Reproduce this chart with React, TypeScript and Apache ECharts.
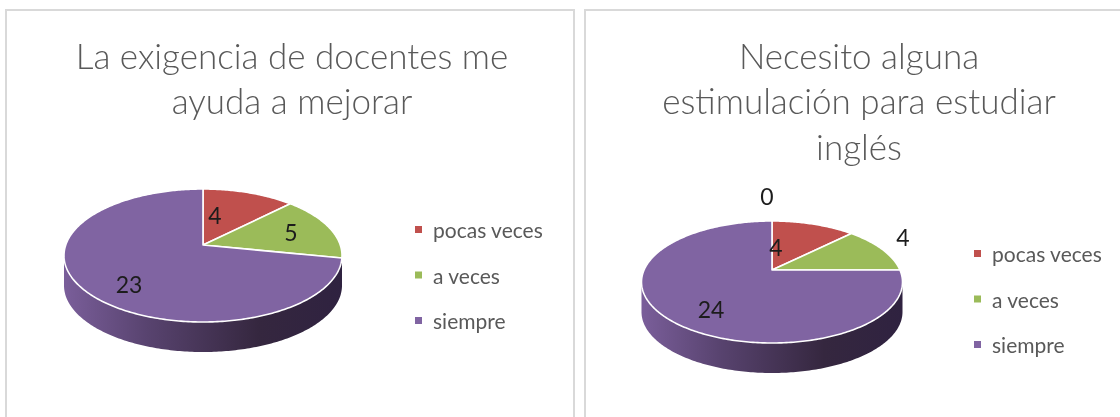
import React, { useEffect, useRef } from "react";
import * as echarts from "echarts";

// ---- data ----
const legendNames = ["pocas veces", "a veces", "siempre"];
const leftCategories = ["pocas veces", "a veces", "siempre"];
const leftValues = [4, 5, 23];
const rightCategories = ["sin etiqueta", "pocas veces", "a veces", "siempre"];
const rightValues = [0, 4, 4, 24];
const leftTitle = "La exigencia de docentes me\nayuda a mejorar";
const rightTitle = "Necesito alguna\nestimulación para estudiar\ninglés";

// ---- styles ----
const colors: Record<string, string> = {
  "sin etiqueta": "#4f81bd",
  "pocas veces": "#c0504d",
  "a veces": "#9bbb59",
  siempre: "#8064a2",
};
const FONT = "Lato, 'Noto Sans', sans-serif";

type Layout = {
  left: number; width: number;
  frame: { x: number; y: number; w: number; h: number };
  titleX: number; titleTop: number;
  apex: [number, number]; up: number; down: number; half: number; depth: number;
  labels: [number, number][];
  legendLeft: number; legendTop: number;
};

const leftLayout: Layout = {
  left: 0, width: 580,
  frame: { x: 6, y: 10, w: 568, h: 430 },
  titleX: 287, titleTop: 27,
  apex: [203, 245], up: 56, down: 77, half: 139, depth: 30,
  labels: [[215, 215], [291, 232], [129, 284]],
  legendLeft: 410, legendTop: 214,
};
const rightLayout: Layout = {
  left: 580, width: 540,
  frame: { x: 5, y: 10, w: 560, h: 430 },
  titleX: 274, titleTop: 27,
  apex: [192, 270], up: 49, down: 73, half: 130.5, depth: 30,
  labels: [[187, 196], [196, 247], [323, 237], [131, 309]],
  legendLeft: 389, legendTop: 238,
};

function Panel({ title, categories, values, layout }: { title: string; categories: string[]; values: number[]; layout: Layout }) {
  const ref = useRef<HTMLDivElement>(null);
  useEffect(() => {
    const chart = echarts.init(ref.current!, undefined, { renderer: "svg" });
    const [cx, cy] = layout.apex;
    const k = (layout.down - layout.up) / (layout.down + layout.up);
    const b = layout.up * (1 + k);
    const a = layout.half * Math.sqrt(1 - k * k);
    const project = (theta: number, dy = 0): number[] => {
      const x = Math.sin(theta);
      const y = Math.cos(theta);
      const w = 1 + k * y;
      return [cx + (a * x) / w, cy - (b * y) / w + dy];
    };
    const total = values.reduce((s, v) => s + v, 0);
    const arc = (from: number, to: number, dy = 0) => {
      const n = Math.max(2, Math.ceil(Math.abs(to - from) / 0.015));
      const pts: number[][] = [];
      for (let i = 0; i <= n; i++) pts.push(project(from + ((to - from) * i) / n, dy));
      return pts;
    };
    // side wall of the disc runs between the two silhouette points
    const sideFrom = Math.PI - Math.asin(Math.sqrt(1 - k * k));
    const sideTo = Math.PI + Math.asin(Math.sqrt(1 - k * k));
    const sideSeries = {
      type: "custom",
      name: "lateral",
      coordinateSystem: "none",
      silent: true,
      data: [total],
      renderItem: () => ({
        type: "polygon",
        shape: { points: [...arc(sideFrom, sideTo), ...arc(sideTo, sideFrom, layout.depth)] },
        style: {
          fill: new echarts.graphic.LinearGradient(1, 0, 0, 0, [
            { offset: 0, color: "#2f2240" },
            { offset: 0.3, color: "#35273f" },
            { offset: 0.7, color: "#58436f" },
            { offset: 1, color: "#7a5e9a" },
          ]),
        },
      }),
    };
    let acc = 0;
    const sliceSeries = values.map((v, i) => {
      const start = (acc / total) * Math.PI * 2;
      acc += v;
      const end = (acc / total) * Math.PI * 2;
      const name = categories[i];
      const color = colors[name];
      return {
        type: "custom",
        name,
        coordinateSystem: "none",
        silent: true,
        itemStyle: { color },
        data: [v],
        z: 3,
        renderItem: () => ({
          type: "group",
          children: [
            ...(v > 0
              ? [{
                  type: "polygon",
                  shape: { points: [[cx, cy], ...arc(start, end)] },
                  style: { fill: color, stroke: "#ffffff", lineWidth: 1.6, lineJoin: "round" },
                }]
              : []),
          ],
        }),
      };
    });
    // value labels sit on top of every slice
    const labelSeries = values.map((v, i) => ({
      type: "custom",
      name: `etiqueta-${i}`,
      coordinateSystem: "none",
      silent: true,
      data: [v],
      z: 5,
      renderItem: () => ({
        type: "text",
        x: layout.labels[i][0],
        y: layout.labels[i][1],
        style: {
          text: String(v),
          fill: "#1c1c1c",
          font: `23px ${FONT}`,
          align: "center",
          verticalAlign: "middle",
        },
      }),
    }));
    chart.setOption({
      animation: false,
      backgroundColor: "#ffffff",
      title: {
        text: title,
        left: layout.titleX,
        top: layout.titleTop,
        textAlign: "center",
        textStyle: { fontFamily: FONT, fontWeight: 300, fontSize: 35, lineHeight: 45.5, color: "#595959" },
      },
      legend: {
        data: legendNames,
        orient: "vertical",
        left: layout.legendLeft,
        top: layout.legendTop,
        icon: "rect",
        itemWidth: 7,
        itemHeight: 7,
        itemGap: 24.5,
        selectedMode: false,
        textStyle: { fontFamily: FONT, fontSize: 21, color: "#595959", padding: [0, 0, 0, 6] },
      },
      graphic: [{
        type: "rect",
        shape: { x: layout.frame.x, y: layout.frame.y, width: layout.frame.w, height: layout.frame.h },
        style: { fill: "none", stroke: "#d9d9d9", lineWidth: 2 },
        silent: true,
      }],
      series: [sideSeries, ...sliceSeries, ...labelSeries],
    });
    return () => chart.dispose();
  }, [title, categories, values, layout]);
  return (
    <div
      ref={ref}
      style={{ position: "absolute", left: layout.left, top: 0, width: layout.width, height: 417 }}
    />
  );
}

export default function App() {
  useEffect(() => {
    document.body.style.margin = "0";
  }, []);
  return (
    <div style={{ position: "relative", width: 1120, height: 417, overflow: "hidden", background: "#fff", filter: "blur(0.5px)" }}>
      <Panel title={leftTitle} categories={leftCategories} values={leftValues} layout={leftLayout} />
      <Panel title={rightTitle} categories={rightCategories} values={rightValues} layout={rightLayout} />
    </div>
  );
}
